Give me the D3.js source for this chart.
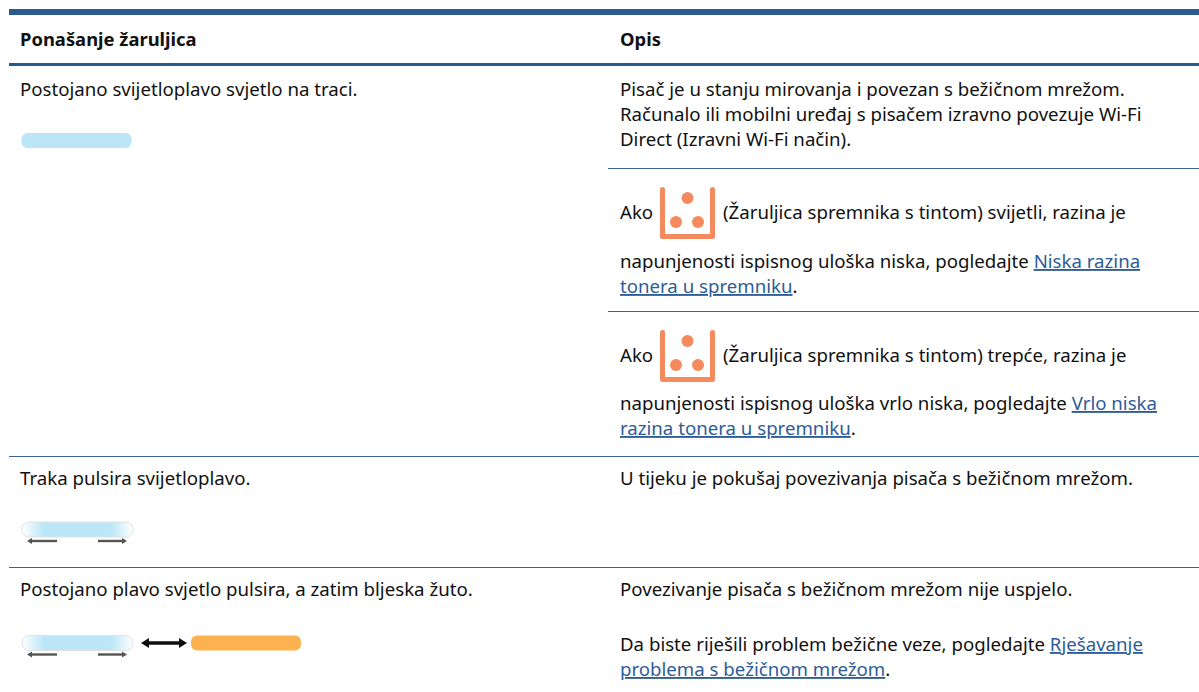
<!DOCTYPE html>
<html lang="hr">
<head>
<meta charset="utf-8">
<title>Ponašanje žaruljica</title>
<script src="https://d3js.org/d3.v7.min.js"></script>
<style>
html, body { margin: 0; background: #fff; overflow: hidden; }
text { font-family: "Noto Sans", sans-serif; font-size: 18.65px; fill: #111; }
.head { font-weight: 700; font-size: 18.4px; }
.link { fill: #2e5c99; text-decoration: underline; }
</style>
</head>
<body>
<script>
var w = 1199, h = 692;

// table content, one small list per thing
var headers = ["Ponašanje žaruljica", "Opis"];
var leftRows = [
    "Postojano svijetloplavo svjetlo na traci.",
    "Traka pulsira svijetloplavo.",
    "Postojano plavo svjetlo pulsira, a zatim bljeska žuto."
];
// each line: [text pieces], a piece flagged 1 is a link
var rightLines = [
    [["Pisač je u stanju mirovanja i povezan s bežičnom mrežom.", 0]],
    [["Računalo ili mobilni uređaj s pisačem izravno povezuje Wi-Fi", 0]],
    [["Direct (Izravni Wi-Fi način).", 0]],
    [["Ako", 0]],
    [["(Žaruljica spremnika s tintom) svijetli, razina je", 0]],
    [["napunjenosti ispisnog uloška niska, pogledajte ", 0], ["Niska razina", 1]],
    [["tonera u spremniku", 1], [".", 0]],
    [["Ako", 0]],
    [["(Žaruljica spremnika s tintom) trepće, razina je", 0]],
    [["napunjenosti ispisnog uloška vrlo niska, pogledajte ", 0], ["Vrlo niska", 1]],
    [["razina tonera u spremniku", 1], [".", 0]],
    [["U tijeku je pokušaj povezivanja pisača s bežičnom mrežom.", 0]],
    [["Povezivanje pisača s bežičnom mrežom nije uspjelo.", 0]],
    [["Da biste riješili problem bežične veze, pogledajte ", 0], ["Rješavanje", 1]],
    [["problema s bežičnom mrežom", 1], [".", 0]]
];
var rightLineY = [96, 121, 146, 219, 219, 268, 293, 362, 362, 410, 435, 485, 596, 651, 676];
var rightLineX = [620, 620, 620, 620, 723, 620, 620, 620, 723, 620, 620, 620, 620, 620, 620];
var leftRowY = [96, 485, 596];
var fullRules = [168, 456, 567];
var rightRules = [311];
var inkIconY = [187, 330];

var svg = d3.select("body").append("svg").attr("width", w).attr("height", h);
var defs = svg.append("defs");

var fade = defs.append("linearGradient").attr("id", "fade");
fade.selectAll("stop")
    .data([[0, "#ffffff"], [0.2, "#bae6f7"], [0.8, "#bae6f7"], [1, "#ffffff"]])
    .enter().append("stop")
    .attr("offset", function(d) { return d[0]; })
    .attr("stop-color", function(d) { return d[1]; });

defs.append("filter").attr("id", "soft")
    .append("feGaussianBlur").attr("stdDeviation", 0.6);

// header rules
svg.append("rect").attr("x", 9).attr("y", 9).attr("width", 1190).attr("height", 6).attr("fill", "#2b5a92");
svg.append("rect").attr("x", 9).attr("y", 63).attr("width", 1190).attr("height", 3).attr("fill", "#2b5a92");

svg.selectAll("line.full").data(fullRules).enter().append("line")
    .attr("class", "full")
    .attr("x1", function(d) { return d === 168 ? 608 : 9; }).attr("x2", 1199)
    .attr("y1", function(d) { return d + 0.5; }).attr("y2", function(d) { return d + 0.5; })
    .attr("stroke", "#3a6599");
svg.selectAll("line.right").data(rightRules).enter().append("line")
    .attr("class", "right")
    .attr("x1", 608).attr("x2", 1199)
    .attr("y1", function(d) { return d + 0.5; }).attr("y2", function(d) { return d + 0.5; })
    .attr("stroke", "#3a6599");

svg.selectAll("text.head").data(headers).enter().append("text")
    .attr("class", "head")
    .attr("x", function(d, i) { return i ? 620 : 20; })
    .attr("y", 45.5)
    .text(function(d) { return d; });

svg.selectAll("text.left").data(leftRows).enter().append("text")
    .attr("class", "left")
    .attr("x", 20)
    .attr("y", function(d, i) { return leftRowY[i]; })
    .text(function(d) { return d; });

var lines = svg.selectAll("text.desc").data(rightLines).enter().append("text")
    .attr("class", "desc")
    .attr("x", function(d, i) { return rightLineX[i]; })
    .attr("y", function(d, i) { return rightLineY[i]; });
lines.selectAll("tspan").data(function(d) { return d; }).enter().append("tspan")
    .attr("class", function(d) { return d[1] ? "link" : null; })
    .text(function(d) { return d[0]; });

// ink icon
inkIconY.forEach(function(y) {
    var g = svg.append("g").attr("transform", "translate(660," + y + ")").attr("filter", "url(#soft)");
    g.append("path")
        .attr("d", "M2.5 2.5V49.5H52.5V2.5")
        .attr("fill", "none").attr("stroke", "#f58a5e").attr("stroke-width", 5)
        .attr("stroke-linecap", "round").attr("stroke-linejoin", "round");
    g.selectAll("circle").data([[27.5, 11], [16, 35], [38, 35]]).enter().append("circle")
        .attr("cx", function(d) { return d[0]; }).attr("cy", function(d) { return d[1]; })
        .attr("r", 6).attr("fill", "#f58a5e");
});

// light bars
svg.append("rect").attr("x", 21.5).attr("y", 133).attr("width", 110).attr("height", 15).attr("rx", 6)
    .attr("fill", "#bae6f7").attr("filter", "url(#soft)");

function pulseBar(y) {
    var g = svg.append("g").attr("transform", "translate(21," + y + ")").attr("filter", "url(#soft)");
    g.append("rect").attr("x", 1).attr("y", 0.5).attr("width", 111).attr("height", 15).attr("rx", 7)
        .attr("fill", "url(#fade)").attr("stroke", "#e2e2e2");
    g.append("line").attr("x1", 8).attr("x2", 36).attr("y1", 19.5).attr("y2", 19.5).attr("stroke", "#555").attr("stroke-width", 2.4);
    g.append("path").attr("d", "M6 19.5l5 -3v6z").attr("fill", "#555");
    g.append("line").attr("x1", 77).attr("x2", 104).attr("y1", 19.5).attr("y2", 19.5).attr("stroke", "#555").attr("stroke-width", 2.4);
    g.append("path").attr("d", "M106 19.5l-5 -3v6z").attr("fill", "#555");
}
pulseBar(521.5);
pulseBar(635);

// double arrow and amber bar
var arrow = svg.append("g").attr("filter", "url(#soft)");
arrow.append("line").attr("x1", 145).attr("x2", 183).attr("y1", 643).attr("y2", 643).attr("stroke", "#111").attr("stroke-width", 3.5);
arrow.append("path").attr("d", "M141 643l8 -5v10z").attr("fill", "#111");
arrow.append("path").attr("d", "M187 643l-8 -5v10z").attr("fill", "#111");
svg.append("rect").attr("x", 191).attr("y", 635.5).attr("width", 110).attr("height", 15).attr("rx", 6)
    .attr("fill", "#fbb24f").attr("filter", "url(#soft)");
</script>
</body>
</html>
